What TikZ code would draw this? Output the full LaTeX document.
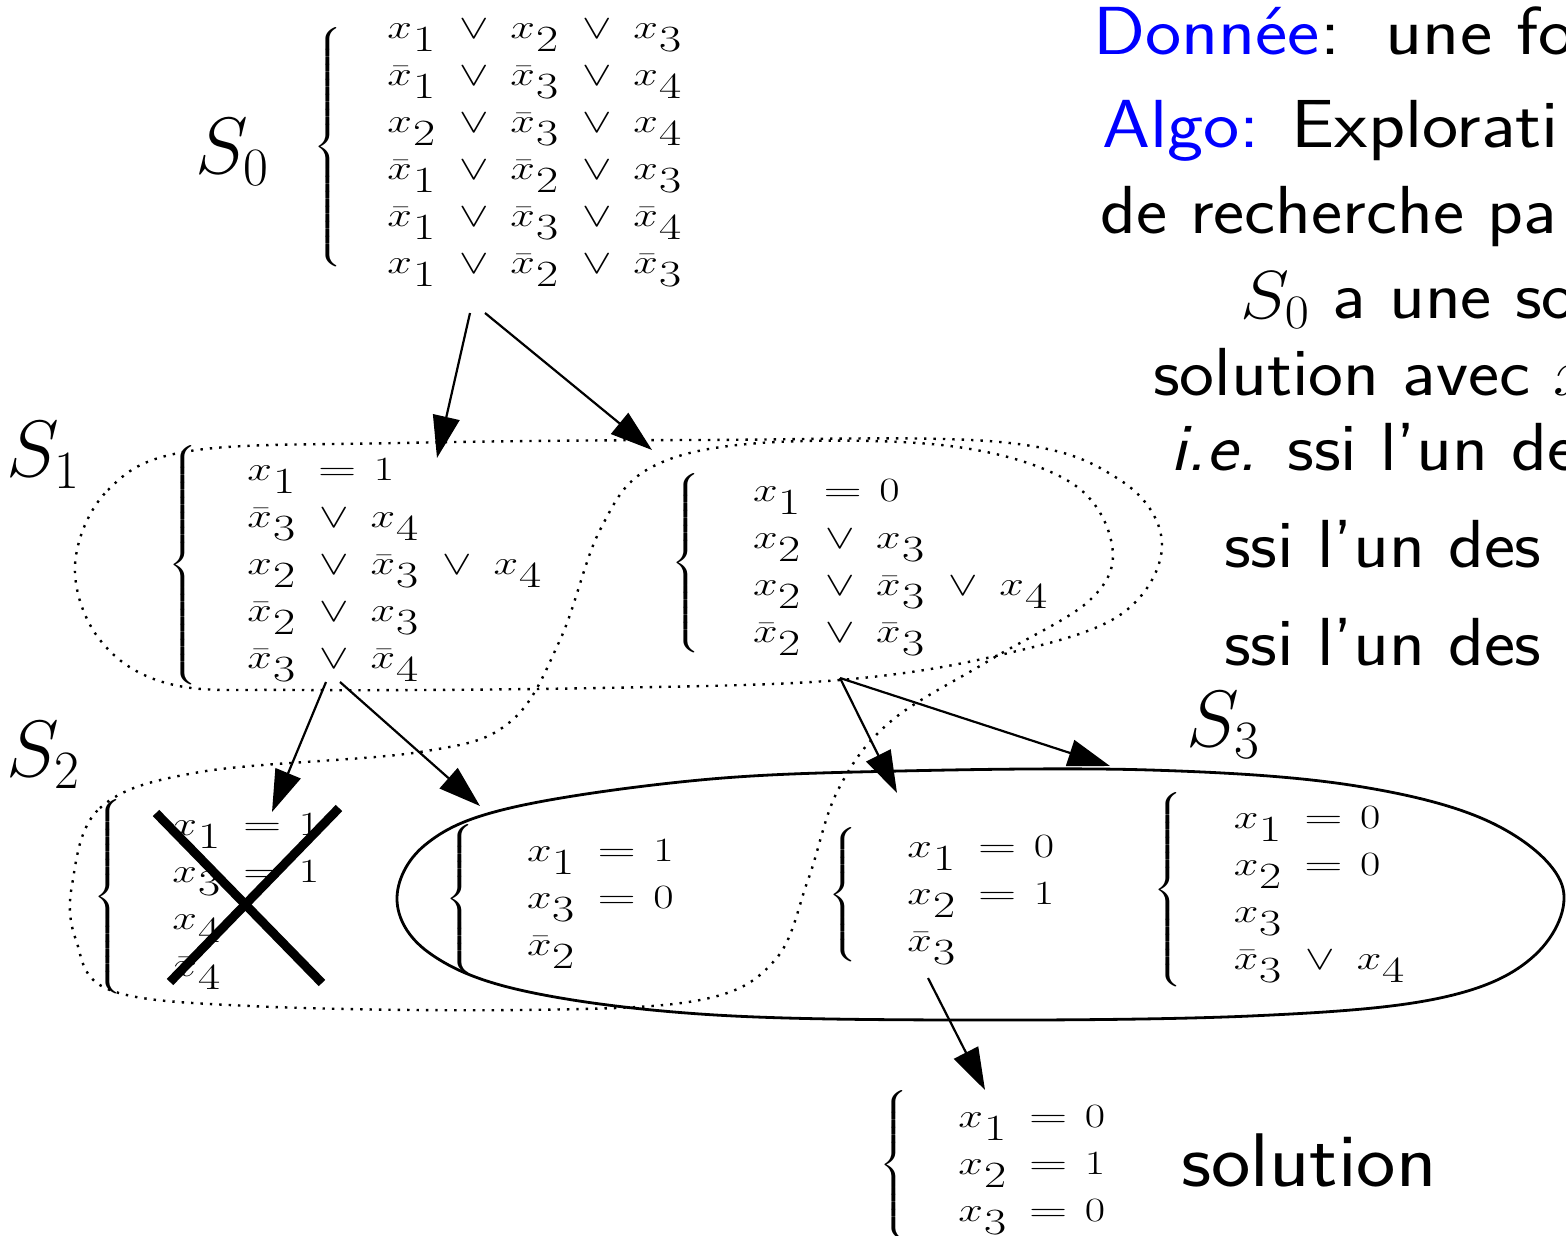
\RequirePackage{fix-cm}
\documentclass[tikz,border=0pt]{standalone}
\usepackage{amsmath}
\usepackage{graphicx}
\usetikzlibrary{arrows.meta}
\DeclareMathSizes{34}{34}{26}{20}
\DeclareMathSizes{80}{80}{54}{40}
\DeclareMathSizes{68}{68}{48}{34}
\renewcommand\arraystretch{1.175}
\newcommand\vx[1]{x\kern1pt\lower13pt\hbox{\fontsize{37}{37}\selectfont #1}}
\newcommand\vb[1]{\bar{x}\kern1pt\lower13pt\hbox{\fontsize{37}{37}\selectfont #1}}
\newcommand\OR{\mathbin{\kern11pt\vee\kern9pt}}
\newcommand\EQ[1]{\mathrel{\kern8pt\scalebox{1.2}[1]{$=$}\kern4pt}\hbox{\fontsize{34}{34}\selectfont #1}}
% #1 gap, #2 brace height, #3 rows
\newcommand\sysbox[3]{\scalebox{1.3}[1]{$\left\{\vcenter{\hbox{\rule{0pt}{#2pt}}}\right.\begin{array}{@{\hspace{#1pt}}l}#3\end{array}$}}
\begin{document}
\begin{tikzpicture}[x=1pt,y=-1pt,
  sys/.style={anchor=west,inner sep=0pt,font=\fontsize{34}{40}\selectfont},
  lab/.style={anchor=west,inner sep=0pt,font=\fontsize{80}{90}\selectfont},
  txt/.style={anchor=base west,inner sep=0pt,font=\fontsize{68}{78}\selectfont\sffamily},
  arr/.style={line width=2.2pt,-{Triangle[length=42pt,width=27pt]}},
  dotc/.style={line width=2.4pt,dash pattern=on 2.4pt off 7pt},
  solidc/.style={line width=2.8pt},
  cross/.style={line width=9pt}]
\path[use as bounding box,clip] (0,0) rectangle (1566,1236);
% labels
\node[lab] (l0) at (195,152) {$S_0$};
\node[lab] (l1) at (6,455) {$S_1$};
\node[lab] (l2) at (6,755) {$S_2$};
\node[lab] (l3) at (1186,725) {$S_3$};
% systems
\node[sys] (s0) at (313,147) {\sysbox{28}{240}{
 \vx1\OR\vx2\OR\vx3\\ \vb1\OR\vb3\OR\vx4\\ \vx2\OR\vb3\OR\vx4\\
 \vb1\OR\vb2\OR\vx3\\ \vb1\OR\vb3\OR\vb4\\ \vx1\OR\vb2\OR\vb3}};
\node[sys] (s1a) at (168,565) {\sysbox{32}{232}{
 \vx1\EQ 1\\ \vb3\OR\vx4\\ \vx2\OR\vb3\OR\vx4\\ \vb2\OR\vx3\\ \vb3\OR\vb4}};
\node[sys] (s1b) at (671,563) {\sysbox{34}{182}{
 \vx1\EQ 0\\ \vx2\OR\vx3\\ \vx2\OR\vb3\OR\vx4\\ \vb2\OR\vb3}};
\node[sys] (s2a) at (93,897) {\sysbox{32}{190}{
 \vx1\EQ 1\\ \vx3\EQ 1\\ \vx4\\ \vb4}};
\node[sys] (s2b) at (445,899) {\sysbox{34}{140}{
 \vx1\EQ 1\\ \vx3\EQ 0\\ \vb2}};
\node[sys] (s3a) at (828,895) {\sysbox{32}{138}{
 \vx1\EQ 0\\ \vx2\EQ 1\\ \vb3}};
\node[sys] (s3b) at (1153,890) {\sysbox{33}{186}{
 \vx1\EQ 0\\ \vx2\EQ 0\\ \vx3\\ \vb3\OR\vx4}};
\node[sys] (sol) at (879,1165) {\sysbox{32}{142}{
 \vx1\EQ 0\\ \vx2\EQ 1\\ \vx3\EQ 0}};
\node[txt,font=\fontsize{76}{86}\selectfont\sffamily] (soltxt) at (1181,1186) {\scalebox{1.1}[1]{solution}};
% right text
\node[txt] (t1) at (1093,55) {\scalebox{1.13}[1]{\textcolor{blue}{Donnée}:\hspace{12pt} une fo}};
\node[txt] (t2) at (1102,148) {\scalebox{1.13}[1]{\textcolor{blue}{Algo:} Explorati}};
\node[txt] (t3) at (1100,233) {\scalebox{1.09}[1]{de recherche pa}};
\node[txt] (t4) at (1240,318) {\scalebox{1.09}[1]{$S_0$ a une so}};
\node[txt] (t5) at (1153,395) {\scalebox{1.09}[1]{solution avec $x$}};
\node[txt] (t6) at (1170,470) {\scalebox{1.09}[1]{\textit{i.e.} ssi l'un de}};
\node[txt] (t7) at (1224,567) {\scalebox{1.09}[1]{ssi l'un des p}};
\node[txt] (t8) at (1224,665) {\scalebox{1.09}[1]{ssi l'un des p}};
% dotted regions
\draw[dotc] plot[smooth cycle,tension=0.6] coordinates {(75,565) (108,490) (190,451) (400,443) (700,440) (1000,442) (1120,480) (1162,545) (1120,615) (1000,655) (840,680) (600,688) (300,690) (170,684) (100,640)};
\draw[dotc] plot[smooth cycle,tension=0.6] coordinates {(72,885) (100,808) (200,772) (420,752) (510,722) (560,640) (600,530) (650,468) (760,443) (950,446) (1070,482) (1112,545) (1090,600) (990,660) (890,722) (838,790) (808,880) (775,960) (700,1000) (520,1010) (250,1006) (110,990) (76,940)};
% S3 region
\draw[solidc] plot[smooth cycle,tension=0.6] coordinates {(397,900) (425,845) (510,808) (700,780) (900,771) (1150,770) (1350,785) (1490,822) (1562,885) (1535,955) (1440,998) (1250,1016) (950,1020) (700,1014) (520,990) (428,952)};
% cross
\draw[cross] (156,813) -- (322,983);
\draw[cross] (339,808) -- (170,982);
% arrow end points
\coordinate (a0) at (470,313); \coordinate (b0) at (485,313);
\coordinate (a1) at (437,458); \coordinate (b1) at (652,450);
\coordinate (c0) at (326,682); \coordinate (d0) at (340,682);
\coordinate (c1) at (272,812); \coordinate (d1) at (480,806);
\coordinate (e0) at (840,678);
\coordinate (e1) at (897,793); \coordinate (f1) at (1110,766);
\coordinate (g0) at (928,978); \coordinate (g1) at (985,1090);
\draw[arr] (a0) -- (a1);
\draw[arr] (b0) -- (b1);
\draw[arr] (c0) -- (c1);
\draw[arr] (d0) -- (d1);
\draw[arr] (e0) -- (e1);
\draw[arr] (e0) -- (f1);
\draw[arr] (g0) -- (g1);
\end{tikzpicture}
\end{document}
